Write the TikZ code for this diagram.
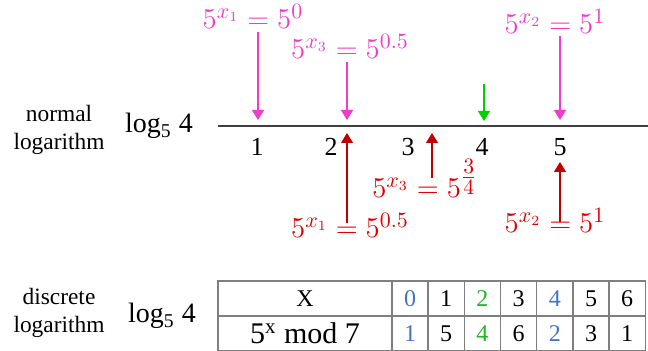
\documentclass[tikz,border=0pt]{standalone}
\usepackage{amsmath}
\usepackage{fontspec}
\setmainfont{Liberation Serif}
\usepackage{xcolor}
\usepackage{tikz}
\usetikzlibrary{positioning,arrows.meta,calc}

\definecolor{pinkc}{HTML}{F03CC8}
\definecolor{redc}{HTML}{E00000}
\definecolor{darkred}{HTML}{C00000}
\definecolor{greenc}{HTML}{00D000}
\definecolor{tgreen}{HTML}{22B422}
\definecolor{tblue}{HTML}{4472C4}
\definecolor{gridc}{HTML}{7F7F7F}

\tikzset{
  sidetext/.style={font=\fontsize{11.7}{14}\selectfont, align=center},
  logtext/.style={font=\fontsize{14}{16}\selectfont, anchor=base},
  ticktext/.style={font=\fontsize{13}{15}\selectfont},
  powtext/.style={font=\fontsize{15}{17}\selectfont, anchor=base},
  downarr/.style={pinkc, line width=0.6pt, -{Triangle[length=5pt,width=6pt]}},
  uparr/.style={darkred, line width=0.6pt, -{Triangle[length=5pt,width=6pt]}},
  cell/.style={draw=gridc, line width=0.7pt, minimum width=18.1pt, minimum height=17.5pt,
    inner sep=0pt, font=\fontsize{12}{14}\selectfont},
}

\begin{document}
\begin{tikzpicture}[x=0.5pt, y=-0.5pt]
  \useasboundingbox (0,0) rectangle (648,351);
  % row labels
  \node[sidetext] (normal) at (59,130) {normal\\logarithm};
  \node[logtext] (nlog) at (159,133) {log\textsubscript{5} 4};
  \node[sidetext] (discrete) at (59,313) {discrete\\logarithm};
  \node[logtext] (dlog) at (162,323) {log\textsubscript{5} 4};

  % number line
  \coordinate (lstart) at (218,126);
  \coordinate (lend) at (648,126);
  \draw[black!75, line width=1.3pt] (lstart) -- (lend);
  \foreach \v/\x in {1/257,2/331,3/408,4/482,5/560}
    \node[ticktext] (t\v) at (\x,147) {\v};

  % pink powers above the line
  \node[powtext, pinkc] (p1) at (253,29) {$5^{x_1}=5^{0}$};
  \node[powtext, pinkc] (p3) at (350,59) {$5^{x_3}=5^{0.5}$};
  \node[powtext, pinkc] (p2) at (555,34) {$5^{x_2}=5^{1}$};
  \coordinate (a1) at (258,120);
  \coordinate (a3) at (347,120);
  \coordinate (a2) at (560,120);
  \draw[downarr] ($(p1.base -| a1)+(0,3)$) -- (a1);
  \draw[downarr] ($(p3.base -| a3)+(0,3)$) -- (a3);
  \draw[downarr] ($(p2.base -| a2)+(0,2)$) -- (a2);
  % green mark at 4
  \coordinate (g0) at (484,84);
  \coordinate (g1) at (484,121);
  \draw[greenc, line width=0.6pt, -{Triangle[length=5pt,width=6pt]}] (g0) -- (g1);

  % red powers below the line
  \node[powtext, redc] (r1) at (350,238) {$5^{x_1}=5^{0.5}$};
  \node[powtext, redc] (r3) at (425,198) {$5^{x_3}=5^{\genfrac{}{}{}{1}{3}{4}}$};
  \node[powtext, redc] (r2) at (555,233) {$5^{x_2}=5^{1}$};
  \coordinate (b1) at (347,133);
  \coordinate (b3) at (432,133);
  \coordinate (b2) at (560,162);
  \draw[uparr] ($(r1.base -| b1)+(0,-15)$) -- (b1);
  \draw[uparr] ($(r3.base -| b3)+(0,-20)$) -- (b3);
  \draw[uparr] ($(r2.base -| b2)+(0,-11)$) -- (b2);

  % table 5^x mod 7
  \node[cell, minimum width=87pt] (hx) at (305,298.5) {X};
  \node[cell, minimum width=87pt, font=\fontsize{15}{17}\selectfont] (hp) at (305,333.5)
    {5\textsuperscript{x} mod 7};
  \foreach \i/\a/\b/\ca/\cb in {0/0/1/tblue/tblue, 1/1/5/black/black, 2/2/4/tgreen/tgreen,
      3/3/6/black/black, 4/4/2/tblue/tblue, 5/5/3/black/black, 6/6/1/black/black} {
    \node[cell, text=\ca] (x\i) at ({410+36.2*\i},298.5) {\a};
    \node[cell, text=\cb] (y\i) at ({410+36.2*\i},333.5) {\b};
  }
\end{tikzpicture}
\end{document}
